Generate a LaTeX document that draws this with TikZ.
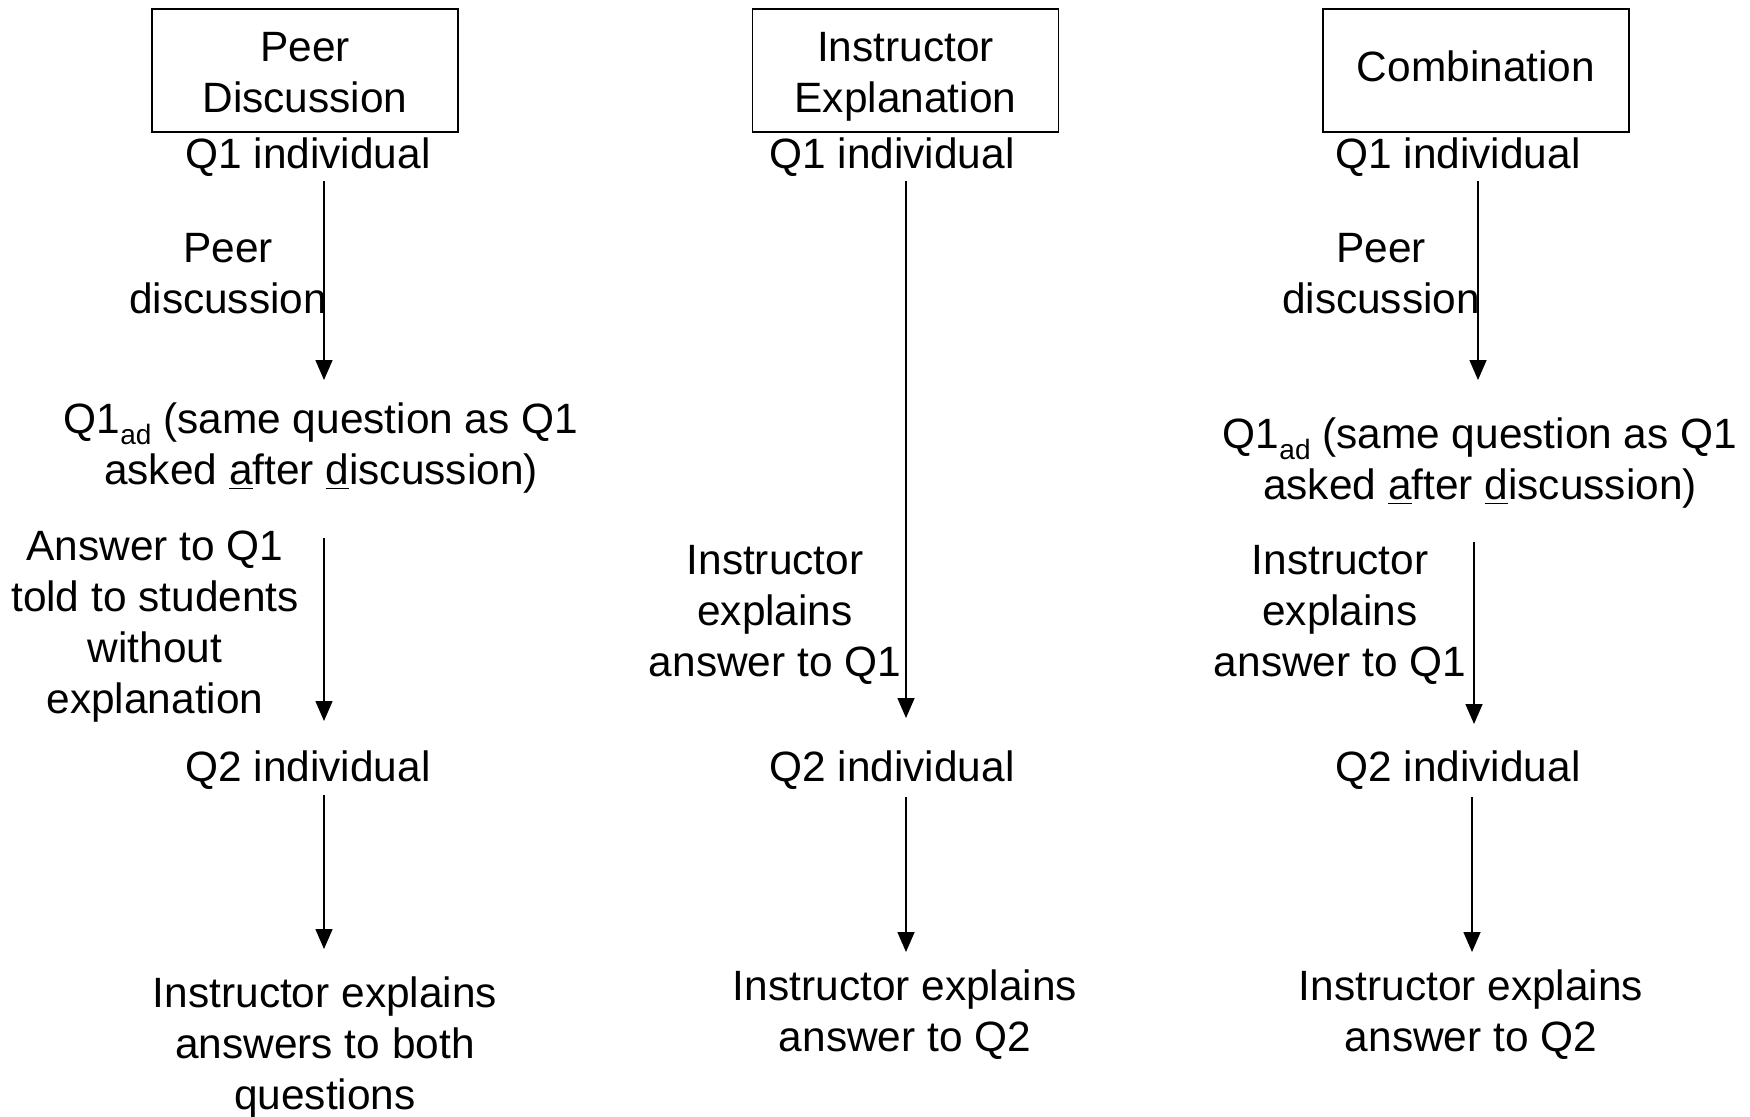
\documentclass[tikz,border=0pt]{standalone}
\usepackage{fontspec}
\setmainfont{Liberation Sans}
\usetikzlibrary{arrows.meta}
\newcommand{\subad}{\raisebox{-5.5pt}{\fontsize{14}{14}\selectfont ad}}
\newcommand{\hdrtext}[2]{\raisebox{#1}[\height][\depth]{\begin{tabular}{@{}c@{}}#2\end{tabular}}}
\begin{document}
\begin{tikzpicture}[x=0.5pt,y=-0.5pt,
  txt/.style={inner sep=0pt,align=center,font=\fontsize{21.2}{25.5}\selectfont},
  hdr/.style={txt,draw,line width=0.8pt,minimum width=153pt,minimum height=61.5pt},
  arr/.style={line width=0.75pt,-{Triangle[length=10pt,width=8.5pt]}}]
\useasboundingbox (0,0) rectangle (1750,1116);
% headers
\node[hdr] (box1) at (305,70.5) {\hdrtext{-3.35pt}{Peer\\Discussion}};
\node[hdr] (box2) at (905.5,70.5) {\hdrtext{-3.35pt}{Instructor\\Explanation}};
\node[hdr] (box3) at (1476,70.5) {\hdrtext{-0.55pt}{Combination}};
% column 1
\node[txt] (q1a) at (308,157.5) {Q1 individual};
\node[txt] (pd1) at (228,273.5) {Peer\\discussion};
\node[txt] (ad1) at (321,448.5) {Q1\subad{} (same question as Q1\\asked \underline{a}fter \underline{d}iscussion)};
\node[txt] (ans1) at (155,626.5) {Answer to Q1\\told to students\\without\\explanation};
\node[txt] (q2a) at (308,770.5) {Q2 individual};
\node[txt] (fin1) at (325,1047.5) {Instructor explains\\answers to both\\questions};
% column 2
\node[txt] (q1b) at (892,157.5) {Q1 individual};
\node[txt] (ie2) at (775,614.5) {Instructor\\explains\\answer to Q1};
\node[txt] (q2b) at (892,770.5) {Q2 individual};
\node[txt] (fin2) at (905,1015) {Instructor explains\\answer to Q2};
% column 3
\node[txt] (q1c) at (1458,157.5) {Q1 individual};
\node[txt] (pd3) at (1381,273.5) {Peer\\discussion};
\node[txt] (ad3) at (1480,463.5) {Q1\subad{} (same question as Q1\\asked \underline{a}fter \underline{d}iscussion)};
\node[txt] (ie3) at (1340,614.5) {Instructor\\explains\\answer to Q1};
\node[txt] (q2c) at (1458,770.5) {Q2 individual};
\node[txt] (fin3) at (1471,1015) {Instructor explains\\answer to Q2};
% arrow end points
\coordinate (s1a) at (324,181); \coordinate (e1a) at (324,380);
\coordinate (s1b) at (324,538); \coordinate (e1b) at (324,721);
\coordinate (s1c) at (324,795); \coordinate (e1c) at (324,949);
\coordinate (s2a) at (906,181); \coordinate (e2a) at (906,718);
\coordinate (s2b) at (906,797); \coordinate (e2b) at (906,952);
\coordinate (s3a) at (1478,181); \coordinate (e3a) at (1478,380);
\coordinate (s3b) at (1474,542); \coordinate (e3b) at (1474,724);
\coordinate (s3c) at (1472,797); \coordinate (e3c) at (1472,952);
\draw[arr] (s1a) -- (e1a);
\draw[arr] (s1b) -- (e1b);
\draw[arr] (s1c) -- (e1c);
\draw[arr] (s2a) -- (e2a);
\draw[arr] (s2b) -- (e2b);
\draw[arr] (s3a) -- (e3a);
\draw[arr] (s3b) -- (e3b);
\draw[arr] (s3c) -- (e3c);
\end{tikzpicture}
\end{document}
